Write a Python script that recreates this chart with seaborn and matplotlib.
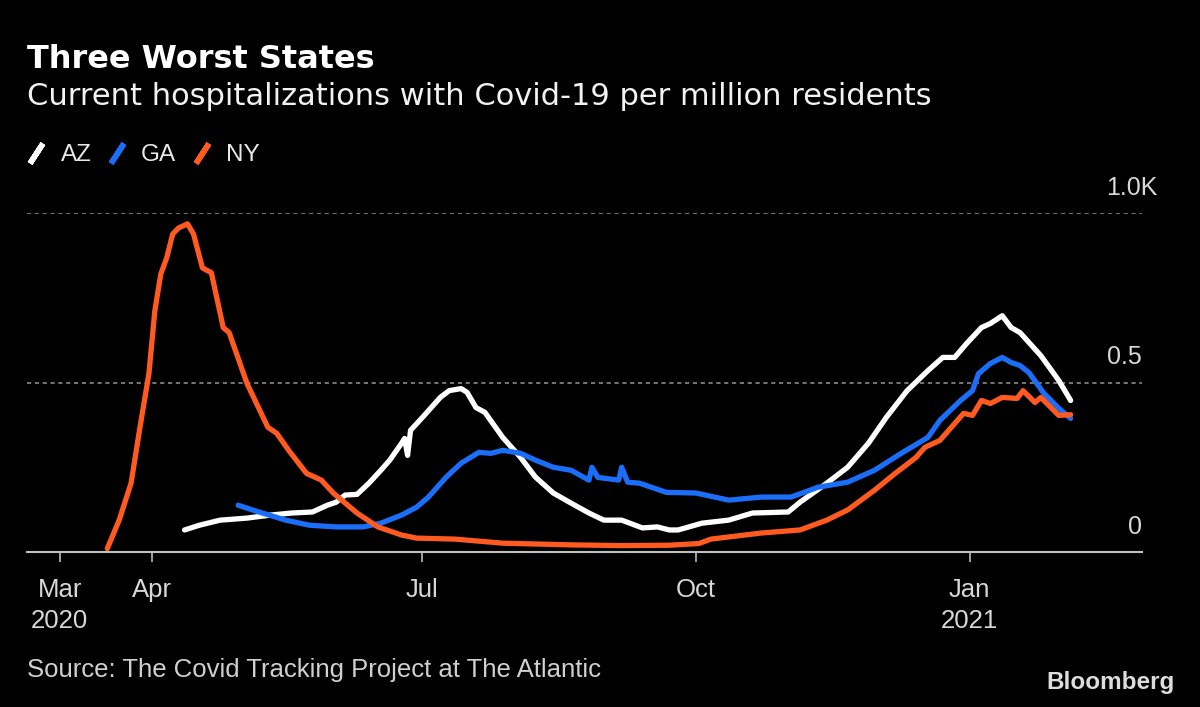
import pandas as pd
import matplotlib.pyplot as plt
import matplotlib.transforms as mtransforms
from matplotlib.lines import Line2D
import seaborn as sns

# === Data (hospitalizations per million residents) ===
az_dates = ["2020-04-12", "2020-04-17", "2020-04-24", "2020-05-03", "2020-05-11", "2020-05-18",
            "2020-05-25", "2020-05-30", "2020-06-02", "2020-06-05", "2020-06-09", "2020-06-13",
            "2020-06-17", "2020-06-20", "2020-06-24", "2020-06-25", "2020-06-26", "2020-06-27",
            "2020-07-01", "2020-07-07", "2020-07-10", "2020-07-14", "2020-07-16", "2020-07-19",
            "2020-07-22", "2020-07-28", "2020-08-03", "2020-08-08", "2020-08-14", "2020-08-20",
            "2020-08-26", "2020-08-31", "2020-09-06", "2020-09-13", "2020-09-18", "2020-09-22",
            "2020-09-25", "2020-10-03", "2020-10-12", "2020-10-20", "2020-11-01", "2020-11-05",
            "2020-11-14", "2020-11-21", "2020-11-28", "2020-12-04", "2020-12-11", "2020-12-18",
            "2020-12-23", "2020-12-27", "2020-12-31", "2021-01-05", "2021-01-08", "2021-01-12",
            "2021-01-15", "2021-01-18", "2021-01-25", "2021-01-31", "2021-02-04"]
az_values = [65, 79, 94, 100, 109, 115,
             118, 138, 147, 168, 170, 203,
             241, 271, 321, 335, 285, 359,
             397, 456, 476, 482, 471, 426,
             412, 338, 279, 221, 174, 144,
             115, 94, 94, 71, 74, 65,
             65, 85, 94, 115, 118, 147,
             203, 250, 321, 397, 476, 535,
             574, 574, 615, 662, 674, 697,
             662, 647, 579, 506, 447]

ga_dates = ["2020-04-30", "2020-05-07", "2020-05-16", "2020-05-24", "2020-06-02", "2020-06-11",
            "2020-06-17", "2020-06-24", "2020-06-29", "2020-07-03", "2020-07-09", "2020-07-14",
            "2020-07-20", "2020-07-24", "2020-07-28", "2020-08-03", "2020-08-08", "2020-08-14",
            "2020-08-20", "2020-08-26", "2020-08-27", "2020-08-29", "2020-09-05", "2020-09-06",
            "2020-09-08", "2020-09-12", "2020-09-21", "2020-10-01", "2020-10-12", "2020-10-23",
            "2020-11-02", "2020-11-11", "2020-11-21", "2020-11-30", "2020-12-09", "2020-12-18",
            "2020-12-22", "2020-12-29", "2021-01-02", "2021-01-04", "2021-01-08", "2021-01-12",
            "2021-01-15", "2021-01-18", "2021-01-21", "2021-01-26", "2021-01-31", "2021-02-04"]
ga_values = [138, 118, 94, 79, 74, 74,
             85, 109, 132, 162, 221, 262,
             294, 291, 300, 291, 271, 250,
             241, 212, 250, 220, 212, 250,
             206, 203, 176, 174, 153, 162,
             162, 191, 206, 241, 291, 338,
             388, 447, 476, 526, 556, 574,
             559, 550, 529, 468, 424, 394]

ny_dates = ["2020-03-17", "2020-03-21", "2020-03-25", "2020-03-28", "2020-03-31", "2020-04-02",
            "2020-04-04", "2020-04-06", "2020-04-08", "2020-04-10", "2020-04-13", "2020-04-15",
            "2020-04-18", "2020-04-21", "2020-04-25", "2020-04-27", "2020-05-03", "2020-05-10",
            "2020-05-13", "2020-05-17", "2020-05-23", "2020-05-28", "2020-06-01", "2020-06-09",
            "2020-06-16", "2020-06-24", "2020-06-29", "2020-07-12", "2020-07-28", "2020-08-20",
            "2020-09-06", "2020-09-22", "2020-10-02", "2020-10-06", "2020-10-23", "2020-11-05",
            "2020-11-14", "2020-11-21", "2020-11-30", "2020-12-07", "2020-12-14", "2020-12-17",
            "2020-12-22", "2020-12-25", "2020-12-30", "2021-01-02", "2021-01-05", "2021-01-08",
            "2021-01-12", "2021-01-17", "2021-01-19", "2021-01-23", "2021-01-25", "2021-01-31",
            "2021-02-04"]
ny_values = [10, 94, 203, 368, 526, 712,
             820, 868, 938, 956, 968, 938,
             838, 824, 662, 647, 497, 368,
             350, 300, 232, 212, 174, 115,
             74, 50, 41, 38, 26, 21,
             19, 20, 25, 38, 56, 65,
             94, 124, 182, 232, 279, 309,
             329, 359, 409, 403, 447, 438,
             456, 453, 476, 441, 456, 403,
             405]

states = ["AZ", "GA", "NY"]
colors = {"AZ": "#ffffff", "GA": "#1a6ef7", "NY": "#ff5a1f"}

tick_dates = ["2020-03-01", "2020-04-01", "2020-07-01", "2020-10-01", "2021-01-01"]
tick_labels = ["Mar\n2020", "Apr", "Jul", "Oct", "Jan\n2021"]
y_levels = [0, 500, 1000]
y_labels = ["0", "0.5", "1.0K"]

# === Build a long table ===
df = pd.concat([
    pd.DataFrame({"date": pd.to_datetime(az_dates), "value": az_values, "state": "AZ"}),
    pd.DataFrame({"date": pd.to_datetime(ga_dates), "value": ga_values, "state": "GA"}),
    pd.DataFrame({"date": pd.to_datetime(ny_dates), "value": ny_values, "state": "NY"}),
])

# === Style ===
sns.set_style("dark", {"axes.facecolor": "black", "figure.facecolor": "black"})
plt.rcParams["font.family"] = ["Liberation Sans", "DejaVu Sans"]

fig = plt.figure(figsize=(12, 7.07), dpi=100, facecolor="black")
ax = fig.add_axes([27 / 1200, 1 - 552 / 707, (1142 - 27) / 1200, (552 - 213) / 707])
ax.set_facecolor("black")

sns.lineplot(data=df, x="date", y="value", hue="state", hue_order=states,
             palette=colors, linewidth=3.8, legend=False, ax=ax)
for line in ax.get_lines():
    line.set_solid_joinstyle("round")
    line.set_solid_capstyle("round")

ax.set_xlim(pd.Timestamp("2020-02-19"), pd.Timestamp("2021-02-28"))
ax.set_ylim(0, 1000)

# dotted gridlines at 0.5 and 1.0K
for v in y_levels[1:]:
    ax.axhline(v, color="#8a8a8a", lw=1.2, linestyle=(0, (2.5, 2.2)), zorder=0)

# y labels above the gridlines, on the right
trans = mtransforms.blended_transform_factory(ax.transAxes, ax.transData)
for v, lab in zip(y_levels, y_labels):
    xoff = 16 if lab.endswith("K") else 0
    ax.annotate(lab, xy=(1, v), xycoords=trans, xytext=(xoff * 0.72, 18),
                textcoords="offset points", ha="right", va="center",
                color="#d8d8d8", fontsize=18)

ax.set_yticks([])
ax.set_xticks(pd.to_datetime(tick_dates))
ax.set_xticklabels(tick_labels)
ax.tick_params(axis="x", colors="#bbbbbb", labelcolor="#d8d8d8", length=7, width=1.2,
               direction="out", pad=12, labelsize=18.5, bottom=True)
for t in ax.get_xticklabels():
    t.set_linespacing(1.35)

for side in ["top", "left", "right"]:
    ax.spines[side].set_visible(False)
ax.spines["bottom"].set_color("#c0c0c0")
ax.spines["bottom"].set_linewidth(1.5)
ax.set_xlabel("")
ax.set_ylabel("")
ax.grid(False)

# === Titles ===
fig.text(27 / 1200, 1 - 68 / 707, "Three Worst States", color="white", fontsize=23,
         fontweight="bold", family=["DejaVu Sans"], va="baseline")
fig.text(27 / 1200, 1 - 105 / 707, "Current hospitalizations with Covid-19 per million residents",
         color="#f2f2f2", fontsize=22, family=["DejaVu Sans"], va="baseline")

# === Legend with slash markers ===
handles = [Line2D([], [], linestyle="none", marker=(2, 2, -33), markersize=17,
                  markeredgewidth=4, markeredgecolor=colors[s]) for s in states]
leg = fig.legend(handles, states, loc="center left", bbox_to_anchor=(24 / 1200, 1 - 155 / 707),
                 ncol=3, frameon=False, fontsize=17.5, handlelength=1.0, handletextpad=0.5,
                 columnspacing=0.55, borderpad=0, borderaxespad=0)
for t in leg.get_texts():
    t.set_color("#e8e8e8")

# === Footer ===
fig.text(27 / 1200, 1 - 670 / 707, "Source: The Covid Tracking Project at The Atlantic",
         color="#d0d0d0", fontsize=18.5, va="center")
fig.text(1175 / 1200, 1 - 683 / 707, "Bloomberg", color="#dddddd", fontsize=17.5,
         fontweight="bold", ha="right", va="center")

fig.savefig("out.png", dpi=100, facecolor="black")
